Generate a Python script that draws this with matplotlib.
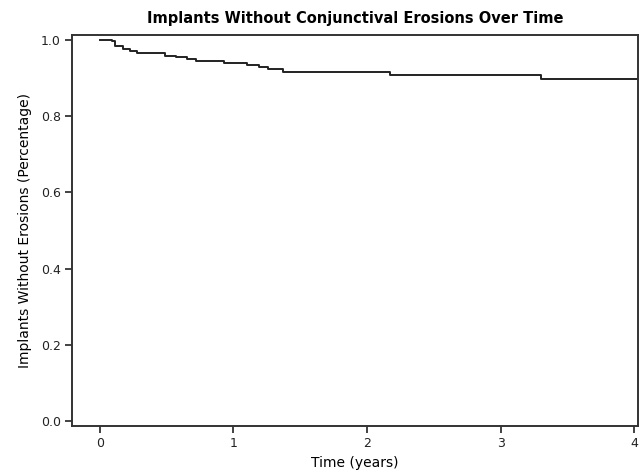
import matplotlib
matplotlib.use("Agg")
import matplotlib.pyplot as plt

# Kaplan-Meier style step curve (time in years, survival fraction)
times = [0.0, 0.087, 0.11, 0.175, 0.225, 0.28, 0.49, 0.57, 0.65, 0.72,
         0.93, 1.10, 1.19, 1.26, 1.37, 2.17, 3.30, 4.03]
surv = [1.0, 0.997, 0.985, 0.976, 0.971, 0.967, 0.959, 0.955, 0.950, 0.946,
        0.940, 0.935, 0.930, 0.923, 0.916, 0.908, 0.898, 0.898]

x_ticks = [0, 1, 2, 3, 4]
y_ticks = [0.0, 0.2, 0.4, 0.6, 0.8, 1.0]

plt.rcParams['font.family'] = ['DejaVu Sans']

fig = plt.figure(figsize=(6.42, 4.74), dpi=100)
ax = fig.add_axes([0.112, 0.101, 0.882, 0.825])

ax.step(times, surv, where='post', color='#222222', linewidth=1.4)

ax.set_xlim(-0.21, 4.03)
ax.set_ylim(-0.013, 1.013)
ax.set_xticks(x_ticks)
ax.set_yticks(y_ticks)
ax.set_yticklabels([f"{v:.1f}" for v in y_ticks])
ax.tick_params(direction='out', length=5, width=1.2, labelsize=9, colors='#222222', pad=3)

for s in ax.spines.values():
    s.set_linewidth(1.4)
    s.set_color('#333333')

ax.set_xlabel('Time (years)', fontsize=10, labelpad=4)
ax.set_ylabel('Implants Without Erosions (Percentage)', fontsize=10, labelpad=6)
ax.set_title('Implants Without Conjunctival Erosions Over Time',
             fontsize=10.5, fontweight='bold', pad=9)

fig.savefig('out.png', dpi=100)
